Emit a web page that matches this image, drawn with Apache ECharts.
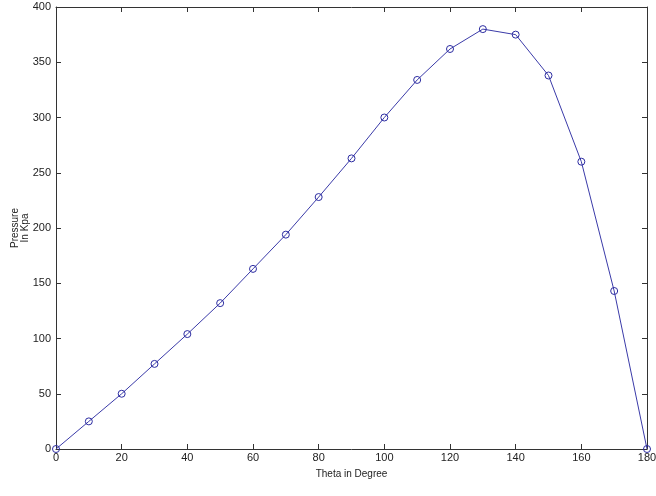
<!DOCTYPE html>
<html style="height: 100%">
<head>
    <meta charset="utf-8">
</head>
<body style="height: 100%; margin: 0; background: #fff">
<div id="main" style="width: 656px; height: 496px;"></div>
<script type="text/javascript" src="https://cdn.jsdelivr.net/npm/echarts@6/dist/echarts.min.js"></script>
<script type="text/javascript">
    // theta in degree
    const theta = [0, 10, 20, 30, 40, 50, 60, 70, 80, 90, 100, 110, 120, 130, 140, 150, 160, 170, 180];
    // pressure in kpa
    const pressure = [0, 25, 50, 77, 104, 132, 163, 194, 228, 263, 300, 334, 362, 380, 375, 338, 260, 143, 0];

    const xTicks = [0, 20, 40, 60, 80, 100, 120, 140, 160, 180];
    const yTicks = [0, 50, 100, 150, 200, 250, 300, 350, 400];

    var data = [];
    for (let i = 0; i < theta.length; i++) {
        data.push([theta[i], pressure[i]]);
    }

    var chart = echarts.init(document.getElementById('main'));

    var axisFont = {
        fontFamily: 'Liberation Sans',
        fontSize: 11,
        color: '#222'
    };
    var lineStyle = {color: '#333', width: 1};

    var option = {
        animation: false,
        grid: {left: 56, right: 9, top: 7, bottom: 47, containLabel: false, outerBoundsMode: 'none'},
        xAxis: [{
            type: 'value',
            min: 0,
            max: 180,
            interval: 20,
            name: 'Theta in Degree',
            nameLocation: 'middle',
            nameGap: 20,
            nameMoveOverlap: false,
            nameTextStyle: {fontFamily: 'Liberation Sans', fontSize: 10, color: '#222'},
            axisLine: {onZero: false, lineStyle: lineStyle},
            axisTick: {inside: true, length: 5, lineStyle: lineStyle},
            axisLabel: Object.assign({margin: 3}, axisFont),
            splitLine: {show: false}
        }, {
            type: 'value',
            position: 'top',
            min: 0,
            max: 180,
            interval: 20,
            axisLine: {show: true, onZero: false, lineStyle: lineStyle},
            axisTick: {inside: true, length: 5, lineStyle: lineStyle},
            axisLabel: {show: false},
            splitLine: {show: false}
        }],
        yAxis: [{
            type: 'value',
            min: 0,
            max: 400,
            interval: 50,
            name: 'Pressure\nIn Kpa',
            nameLocation: 'middle',
            nameRotate: 90,
            nameGap: 26,
            nameMoveOverlap: false,
            nameTextStyle: {fontFamily: 'Liberation Sans', fontSize: 10, color: '#222', lineHeight: 10},
            axisLine: {show: true, onZero: false, lineStyle: lineStyle},
            axisTick: {show: true, inside: true, length: 5, lineStyle: lineStyle},
            axisLabel: Object.assign({margin: 5}, axisFont),
            splitLine: {show: false}
        }, {
            type: 'value',
            position: 'right',
            min: 0,
            max: 400,
            interval: 50,
            axisLine: {show: true, onZero: false, lineStyle: lineStyle},
            axisTick: {show: true, inside: true, length: 5, lineStyle: lineStyle},
            axisLabel: {show: false},
            splitLine: {show: false}
        }],
        series: [{
            type: 'line',
            data: data,
            symbol: 'circle',
            symbolSize: 7,
            showSymbol: true,
            itemStyle: {color: 'transparent', borderColor: '#2a2aa0', borderWidth: 1},
            lineStyle: {color: '#3a3aa8', width: 1},
            clip: false
        }]
    };

    chart.setOption(option);
</script>
</body>
</html>
